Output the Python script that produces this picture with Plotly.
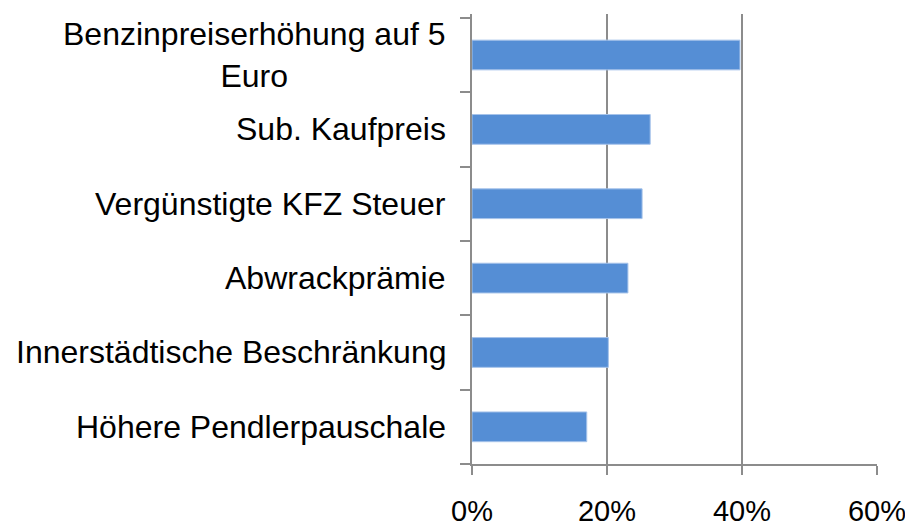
import plotly.graph_objects as go

# Kategorien (von oben nach unten) und Anteile in Prozent
massnahmen = [
    "Benzinpreiserhöhung auf 5<br>Euro",
    "Sub. Kaufpreis",
    "Vergünstigte KFZ Steuer",
    "Abwrackprämie",
    "Innerstädtische Beschränkung",
    "Höhere Pendlerpauschale",
]
anteile = [0.397, 0.264, 0.252, 0.231, 0.202, 0.170]
x_ticks = [0, 0.2, 0.4, 0.6]
x_tick_labels = ["0%", "20%", "40%", "60%"]

grau = "#8c8c8c"
schrift = "Liberation Sans, Arial, sans-serif"

fig = go.Figure()
fig.add_trace(go.Bar(
    x=anteile,
    y=massnahmen,
    orientation="h",
    marker=dict(color="#558ed5", line=dict(color="#a6c3ea", width=1)),
    hoverinfo="x+y",
))

# Kategorie-Beschriftungen als Annotationen, damit mehrzeilige Labels zentriert sind
for name in massnahmen:
    fig.add_annotation(
        x=0, xref="paper", y=name, yref="y",
        text=name, showarrow=False,
        xanchor="right", xshift=-24, align="center",
        font=dict(family=schrift, size=32, color="black"),
    )

# die Seite hat 8px Rand, daher etwas kleinere Figur
fig.update_layout(
    width=905,
    height=518,
    margin=dict(l=464, r=36, t=6, b=62, autoexpand=False),
    paper_bgcolor="white",
    plot_bgcolor="white",
    bargap=0.6,
    showlegend=False,
    font=dict(family=schrift, size=29, color="black"),
    xaxis=dict(
        range=[0, 0.6],
        tickvals=x_ticks,
        ticktext=x_tick_labels,
        showgrid=True, gridcolor=grau, gridwidth=2,
        showline=True, linecolor=grau, linewidth=2,
        ticks="outside", ticklen=9, tickwidth=2, tickcolor=grau,
        ticklabelstandoff=11,
        zeroline=False,
        automargin=False,
        fixedrange=True,
    ),
    yaxis=dict(
        categoryorder="array",
        categoryarray=massnahmen[::-1],
        showticklabels=False,
        showline=True, linecolor=grau, linewidth=2,
        ticks="outside", ticklen=10, tickwidth=2, tickcolor=grau,
        tickson="boundaries",
        showgrid=False,
        zeroline=False,
        automargin=False,
        fixedrange=True,
    ),
)

fig.write_html("out.html")
